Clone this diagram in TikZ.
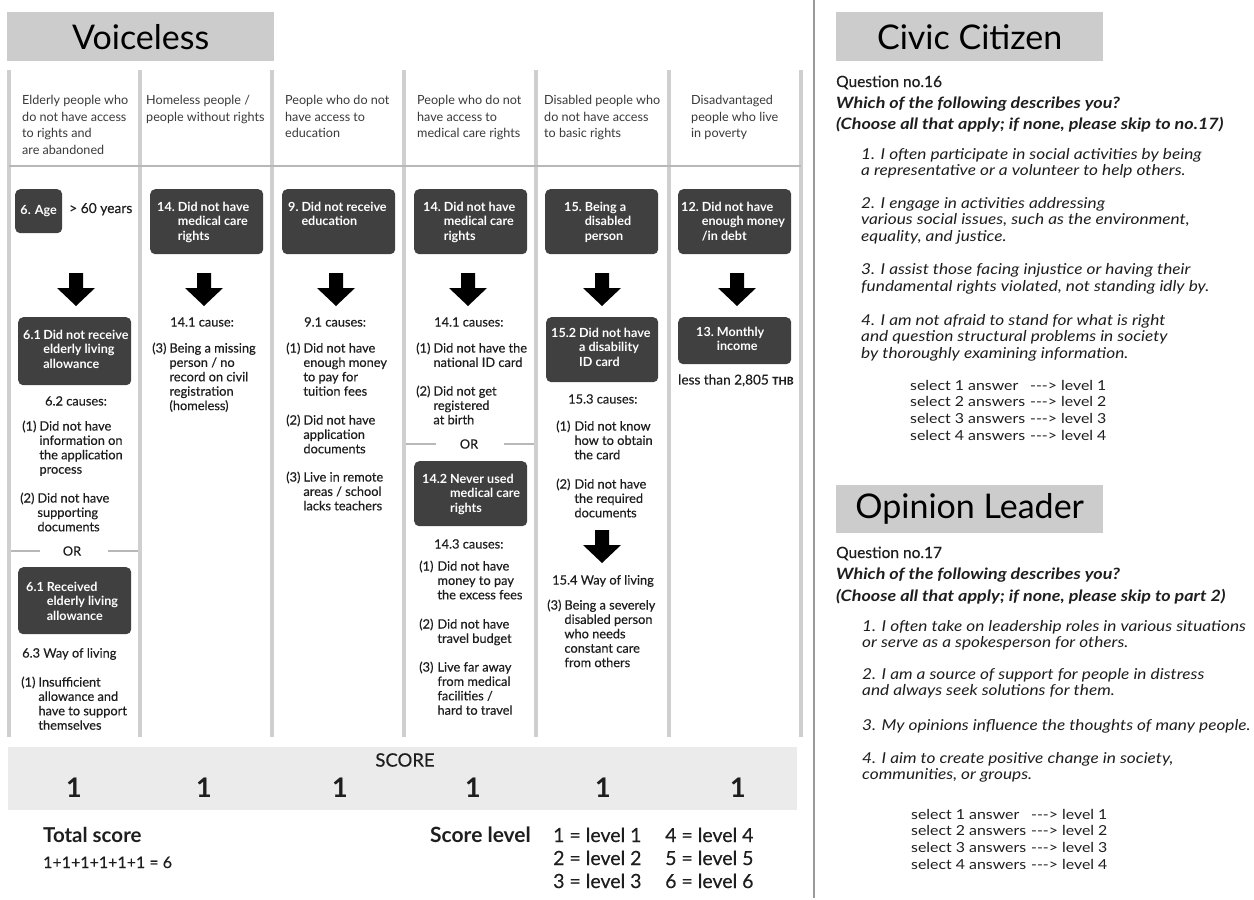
\documentclass[tikz,border=0pt]{standalone}
\usepackage{fontspec}
\setmainfont{Lato}
\newfontfamily\medfont[FakeBold=0.3]{Lato}
\newfontfamily\widefont[FakeStretch=1.15]{Lato}
\usepackage{array}
\definecolor{titlegray}{HTML}{CCCCCC}
\definecolor{bandgray}{HTML}{EBEBEB}
\definecolor{colline}{HTML}{CFCFCF}
\definecolor{sepline}{HTML}{B8B8B8}
\definecolor{darkbox}{HTML}{404040}
\definecolor{txt}{HTML}{1E1E1E}
\definecolor{hdrtxt}{HTML}{3A3A3A}
\definecolor{divider}{HTML}{9A9A9A}
\newcommand{\ml}[1]{\begin{tabular}[t]{@{}l@{}}#1\end{tabular}}
\newcommand{\hl}[3]{\begin{tabular}[t]{@{}l@{\hspace{#1}}l@{}}#2&#3\end{tabular}}
\newcommand{\sel}{\begin{tabular}[t]{@{}l@{\hspace{5pt}}l@{}}select 1 answer&-{}-{}-> level 1\\select 2 answers&-{}-{}-> level 2\\select 3 answers&-{}-{}-> level 3\\select 4 answers&-{}-{}-> level 4\end{tabular}}
\tikzset{
  title/.style={fill=titlegray, inner sep=0pt, anchor=north west, minimum width=267pt, minimum height=49pt, font=\fontsize{34}{40}\selectfont, text=black},
  dbox/.style={fill=darkbox, rounded corners=5pt, inner sep=0pt, anchor=north west, text=white, font=\bfseries\fontsize{12.6}{14.3}\selectfont},
  btxt/.style={anchor=base west, inner sep=0pt, text=white, font=\bfseries\fontsize{12.6}{14.3}\selectfont},
  hdr/.style={anchor=base west, inner sep=0pt, text=hdrtxt, font=\fontsize{12.6}{16.7}\selectfont},
  body/.style={anchor=base west, inner sep=0pt, text=txt, font=\medfont\fontsize{12.8}{14.4}\selectfont},
  colrule/.style={draw=colline, line width=4pt},
  seprule/.style={draw=sepline, line width=2pt},
  orrule/.style={draw=sepline, line width=2pt},
  qtxt/.style={anchor=base west, inner sep=0pt, text=txt, font=\medfont\fontsize{15.5}{17}\selectfont},
  qbold/.style={anchor=base west, inner sep=0pt, text=txt, font=\widefont\bfseries\itshape\fontsize{15.6}{17}\selectfont},
  item/.style={anchor=base west, inner sep=0pt, text=txt, font=\widefont\itshape\fontsize{15}{16.8}\selectfont},
  seltxt/.style={anchor=base west, inner sep=0pt, text=txt, font=\widefont\fontsize{13.8}{16.7}\selectfont},
  scoreone/.style={inner sep=0pt, text=txt, font=\bfseries\fontsize{27}{30}\selectfont},
  bottxt/.style={anchor=base west, inner sep=0pt, text=txt},
  bigdown/.pic={\fill[black] (-7,0) -- (7,0) -- (7,15) -- (19,15) -- (0,33) -- (-19,15) -- (-7,15) -- cycle;}
}
\begin{document}
\begin{tikzpicture}[x=1pt,y=-1pt]
\useasboundingbox (0,0) rectangle (1254,900);
\fill[white] (0,0) rectangle (1254,900);

% ---------- Voiceless part ----------
\node[title] (tv) at (7,12) {Voiceless};

% column rules
\foreach \cx in {9,140,272,404,536,669,801}
  \draw[colrule] (\cx,70) -- (\cx,737);
\draw[seprule] (9,166) -- (801,166);

% headers
\node[hdr] (h1) at (22,104.5) {\ml{Elderly people who\\do not have access\\to rights and\\are abandoned}};
\node[hdr] (h2) at (146,104.5) {\ml{Homeless people /\\people without rights}};
\node[hdr] (h3) at (285,104.5) {\ml{People who do not\\have access to\\education}};
\node[hdr] (h4) at (417,104.5) {\ml{People who do not\\have access to\\medical care rights}};
\node[hdr] (h5) at (544,104.5) {\ml{Disabled people who\\do not have access\\to basic rights}};
\node[hdr] (h6) at (691,104.5) {\ml{Disadvantaged\\people who live\\in poverty}};

% first row boxes
\node[dbox, minimum width=47pt, minimum height=44pt] (age) at (15,189) {6. Age};
\node[body, font=\medfont\fontsize{13.8}{15}\selectfont] (agev) at (69,213) {> 60 years};
\node[dbox, minimum width=113pt, minimum height=65pt] (b2) at (150,189) {};
\node[btxt] (b2t) at (157,211.5) {\hl{3pt}{14.}{Did not have\\&medical care\\&rights}};
\node[dbox, minimum width=113pt, minimum height=65pt] (b3) at (282,189) {};
\node[btxt] (b3t) at (288,211.5) {\hl{3pt}{9.}{Did not receive\\&education}};
\node[dbox, minimum width=113pt, minimum height=65pt] (b4) at (414,189) {};
\node[btxt] (b4t) at (423,211.5) {\hl{3pt}{14.}{Did not have\\&medical care\\&rights}};
\node[dbox, minimum width=113pt, minimum height=65pt] (b5) at (545,189) {};
\node[btxt] (b5t) at (564,211.5) {\hl{3pt}{15.}{Being a\\&disabled\\&person}};
\node[dbox, minimum width=113pt, minimum height=65pt] (b6) at (678,189) {};
\node[btxt] (b6t) at (681,211.5) {\hl{3pt}{12.}{Did not have\\&enough money\\&/in debt}};

% arrows
\foreach \ax in {76,204,336,468,602,737}
  \pic at (\ax,273) {bigdown};
\pic at (602,530) {bigdown};

% column 1
\node[dbox, minimum width=113pt, minimum height=68pt] (b1a) at (18,317) {};
\node[btxt] (b1at) at (23,339.5) {\hl{2.5pt}{6.1}{Did not receive\\&elderly living\\&allowance}};
\node[body, anchor=base] (c1t) at (76,405.5) {6.2 causes:};
\node[body] (c1a) at (22,430.5) {\hl{3pt}{(1)}{Did not have\\&information on\\&the application\\&process}};
\node[body] (c1b) at (20,502.5) {\hl{3pt}{(2)}{Did not have\\&supporting\\&documents}};
\node[body, anchor=center] (or1) at (72,551) {OR};
\draw[orrule] (11,551) -- (40,551);
\draw[orrule] (108,551) -- (138,551);
\node[dbox, minimum width=113pt, minimum height=67pt] (b1b) at (18,567) {};
\node[btxt] (b1bt) at (26,591.5) {\hl{3pt}{6.1}{Received\\&elderly living\\&allowance}};
\node[body] (c1w) at (22,657.5) {6.3 Way of living};
\node[body] (c1c) at (21,686.5) {\hl{3pt}{(1)}{Insufficient\\&allowance and\\&have to support\\&themselves}};

% column 2
\node[body] (c2t) at (170,326.5) {14.1 cause:};
\node[body] (c2a) at (152,352.5) {\hl{3pt}{(3)}{Being a missing\\&person / no\\&record on civil\\&registration\\&(homeless)}};

% column 3
\node[body] (c3t) at (304,326.5) {9.1 causes:};
\node[body] (c3a) at (286,352.5) {\hl{3pt}{(1)}{Did not have\\&enough money\\&to pay for\\&tuition fees}};
\node[body] (c3b) at (286,424.5) {\hl{3pt}{(2)}{Did not have\\&application\\&documents}};
\node[body] (c3c) at (286,481.5) {\hl{3pt}{(3)}{Live in remote\\&areas / school\\&lacks teachers}};

% column 4
\node[body] (c4t) at (434,326.5) {14.1 causes:};
\node[body] (c4a) at (416,352.5) {\hl{3pt}{(1)}{Did not have the\\&national ID card}};
\node[body] (c4b) at (416,395.5) {\hl{3pt}{(2)}{Did not get\\&registered\\&at birth}};
\node[body, anchor=center] (or4) at (469,444) {OR};
\draw[orrule] (406,444) -- (436,444);
\draw[orrule] (504,444) -- (534,444);
\node[dbox, minimum width=113pt, minimum height=65pt] (b4b) at (414,461) {};
\node[btxt] (b4bt) at (422,483.5) {\hl{3pt}{14.2}{Never used\\&medical care\\&rights}};
\node[body] (c4t2) at (434,548.5) {14.3 causes:};
\node[body] (c4c) at (419,570.5) {\hl{4pt}{(1)}{Did not have\\&money to pay\\&the excess fees}};
\node[body] (c4d) at (419,628.5) {\hl{4pt}{(2)}{Did not have\\&travel budget}};
\node[body] (c4e) at (419,671.5) {\hl{4pt}{(3)}{Live far away\\&from medical\\&facilities /\\&hard to travel}};

% column 5
\node[dbox, minimum width=112pt, minimum height=65pt] (b5b) at (546,317) {};
\node[btxt] (b5bt) at (551,337.5) {\hl{3pt}{15.2}{Did not have\\&a disability\\&ID card}};
\node[body] (c5t) at (568,403.5) {15.3 causes:};
\node[body] (c5a) at (556,430.5) {\hl{4pt}{(1)}{Did not know\\&how to obtain\\&the card}};
\node[body] (c5b) at (556,488.5) {\hl{4pt}{(2)}{Did not have\\&the required\\&documents}};
\node[body] (c5w) at (552,584.5) {15.4 Way of living};
\node[body] (c5c) at (547,609.5) {\hl{3pt}{(3)}{Being a severely\\&disabled person\\&who needs\\&constant care\\&from others}};

% column 6
\node[dbox, minimum width=113pt, minimum height=47pt] (b6b) at (678,317) {};
\node[btxt] (b6bt) at (696,336.5) {\hl{3pt}{13.}{Monthly\\&income}};
\node[body, font=\medfont\fontsize{13.6}{15}\selectfont] (c6a) at (678,384.5) {less than 2,805 {\bfseries\fontsize{10.5}{12}\selectfont THB}};

% score band
\node[fill=bandgray, inner sep=0pt, anchor=north west, minimum width=789pt, minimum height=63pt] (band) at (8,747) {};
\node[inner sep=0pt, text=txt, font=\medfont\fontsize{18.5}{20}\selectfont] (scr) at (405,760) {SCORE};
\node[scoreone] (s1) at (74,788) {1};
\node[scoreone] (s2) at (204,788) {1};
\node[scoreone] (s3) at (340,788) {1};
\node[scoreone] (s4) at (473,788) {1};
\node[scoreone] (s5) at (603,788) {1};
\node[scoreone] (s6) at (738,788) {1};

% totals
\node[bottxt, font=\bfseries\fontsize{20.5}{22}\selectfont] (tot) at (43,842) {Total score};
\node[bottxt, font=\medfont\fontsize{16}{20}\selectfont] (sum) at (43,868) {1+1+1+1+1+1 = 6};
\node[bottxt, font=\bfseries\fontsize{21}{22}\selectfont] (sl) at (430,842) {Score level};
\node[bottxt, font=\medfont\fontsize{19.5}{23}\selectfont] (lv1) at (553,842) {\ml{1 = level 1\\2 = level 2\\3 = level 3}};
\node[bottxt, font=\medfont\fontsize{19.5}{23}\selectfont] (lv2) at (665,842) {\ml{4 = level 4\\5 = level 5\\6 = level 6}};

% divider
\draw[draw=divider, line width=2.5pt] (814,0) -- (814,898);

% ---------- Civic Citizen ----------
\node[title] (tc) at (836,12) {Civic Citizen};
\node[qtxt] (q16) at (836,87) {Question no.16};
\node[qbold] (w16) at (836,108) {Which of the following describes you?};
\node[qbold] (ch16) at (836,129) {(Choose all that apply; if none, please skip to no.17)};
\node[item] (i161) at (861,159) {\ml{1. I often participate in social activities by being\\a representative or a volunteer to help others.}};
\node[item] (i162) at (861,208) {\ml{2. I engage in activities addressing\\various social issues, such as the environment,\\equality, and justice.}};
\node[item] (i163) at (861,274.5) {\ml{3. I assist those facing injustice or having their\\fundamental rights violated, not standing idly by.}};
\node[item] (i164) at (861,325) {\ml{4. I am not afraid to stand for what is right\\and question structural problems in society\\by thoroughly examining information.}};
\node[seltxt] (sel16) at (910,390) {\sel};

% ---------- Opinion Leader ----------
\node[title, minimum height=48pt] (to) at (836,485) {Opinion Leader};
\node[qtxt] (q17) at (836,558) {Question no.17};
\node[qbold] (w17) at (836,579) {Which of the following describes you?};
\node[qbold] (ch17) at (836,601) {(Choose all that apply; if none, please skip to part 2)};
\node[item] (i171) at (862,631) {\ml{1. I often take on leadership roles in various situations\\or serve as a spokesperson for others.}};
\node[item] (i172) at (862,679) {\ml{2. I am a source of support for people in distress\\and always seek solutions for them.}};
\node[item] (i173) at (862,730) {3. My opinions influence the thoughts of many people.};
\node[item] (i174) at (862,763) {\ml{4. I aim to create positive change in society,\\communities, or groups.}};
\node[seltxt] (sel17) at (911,819) {\sel};
\end{tikzpicture}
\end{document}
